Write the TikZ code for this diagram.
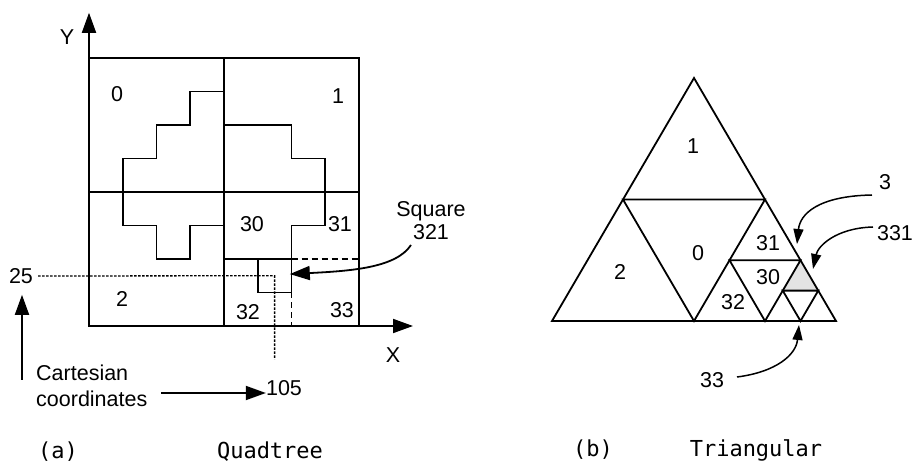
\documentclass[tikz,border=0pt]{standalone}
\usepackage{fontspec}
\usetikzlibrary{arrows.meta, calc}
\newfontfamily\lblfont{Liberation Sans}
\newfontfamily\capfont{DejaVu Sans Mono}

\begin{document}
\begin{tikzpicture}[
  x=1pt, y=-1pt,
  every node/.style={font=\lblfont\fontsize{21.5}{23}\selectfont, inner sep=0pt},
  edge/.style={line width=1.8pt},
  cut/.style={line width=1.8pt, dash pattern=on 6pt off 4pt},
  guide/.style={line width=1.3pt, dash pattern=on 2.5pt off 1.5pt},
  bigarrow/.style={line width=1.8pt, -{Triangle[length=20pt,width=14pt]}},
  ptr/.style={line width=1.5pt, -{Triangle[length=15pt,width=10pt]}},
  caption/.style={font=\capfont\fontsize{22}{26}\selectfont}
]
\useasboundingbox (0,0) rectangle (914,465);

% (a) quadtree, one grid step per level-3 square
\begin{scope}[shift={(89,326)}, x=33.75pt, y=33.5pt]
  % axes
  \coordinate (o) at (0,0);
  \coordinate (ytip) at (0,9.35);
  \coordinate (xtip) at (9.6,0);
  \draw[bigarrow] (o) -- (ytip);
  \draw[bigarrow] (o) -- (xtip);
  % quadrants
  \draw[edge] (0,0) rectangle (8,8);
  \draw[edge] (4,0) -- (4,8) (0,4) -- (8,4);
  % region outline
  \draw[edge] (4,7) -| (3,6) -| (2,5) -| (1,3) -| (2,2) -| (3,3) -- (4,3);
  \draw[edge] (4,6) -| (6,5) -| (7,3) -| (6,2) -- (4,2);
  % square 321 and the rest of quadrant 3
  \draw[edge] (5,1) rectangle (6,2);
  \draw[cut] (6,2) -- (8,2) (6,1) -- (6,0);
  \coordinate (c321) at (5.5,1.5);
  \coordinate (xfoot) at (5.5,-1);
  \coordinate (sqtip) at (5.95,1.55);
\end{scope}

\node (ylbl) at (67,37) {Y};
\node (xlbl) at (393,355) {X};
\node (q0) at (117,94) {0};
\node (q1) at (338,96) {1};
\node (q2) at (122,299) {2};
\node (q30) at (252,224) {30};
\node (q31) at (340,224) {31};
\node (q32) at (248,312) {32};
\node (q33) at (342,310) {33};

% square 321 pointer
\node[align=center] (sq) at (431,221) {Square\\321};
\coordinate (sqfoot) at (411,245);
\draw[bigarrow] (sqfoot) .. controls (396,268) and (350,271) .. (sqtip);

% cartesian coordinates
\node (n25) at (21,276) {25};
\draw[guide, shorten <=5pt] (n25.east) -- (c321) -- (xfoot);
\node[align=left, anchor=west, font=\lblfont\fontsize{21.5}{26}\selectfont] (cart) at (36,386) {Cartesian\\coordinates};
\coordinate (upfoot) at (22,380);
\draw[bigarrow, shorten >=11pt] (upfoot) -- (upfoot |- n25.south);
\node (n105) at (284,388) {105};
\coordinate (cfoot) at (161,393);
\draw[bigarrow] (cfoot) -- (cfoot -| n105.west);

% (b) triangular
\coordinate (A) at (694,78);
\coordinate (L) at (552,321);
\coordinate (R) at (836,321);
\coordinate (mL) at ($(A)!0.5!(L)$);
\coordinate (mR) at ($(A)!0.5!(R)$);
\coordinate (mB) at ($(L)!0.5!(R)$);
\coordinate (p) at ($(mR)!0.5!(mB)$);
\coordinate (q) at ($(mR)!0.5!(R)$);
\coordinate (r) at ($(mB)!0.5!(R)$);
\coordinate (s) at ($(q)!0.5!(r)$);
\coordinate (t) at ($(q)!0.5!(R)$);
\coordinate (u) at ($(r)!0.5!(R)$);

\fill[gray!22] (q) -- (s) -- (t) -- cycle;
\draw[edge] (A) -- (L) -- (R) -- cycle;
\draw[edge] (mL) -- (mR) -- (mB) -- cycle;
\draw[edge] (p) -- (q) -- (r) -- cycle;
\draw[edge] (s) -- (t) -- (u) -- cycle;

\node (t1) at (693,146) {1};
\node (t2) at (620,272) {2};
\node (t0) at (698,253) {0};
\node (t31) at (768,243) {31};
\node (t30) at (768,277) {30};
\node (t32) at (733,302) {32};

% pointers
\node (n3) at (885,182) {3};
\node (n331) at (895,233) {331};
\node (n33) at (712,380) {33};
\coordinate (f3) at (872,195);
\coordinate (f331) at (873,227);
\coordinate (f33) at (737,377);
\coordinate (tip3) at (797,244);
\coordinate (tip331) at (813,269);
\coordinate (tip33) at (799,325);
\draw[ptr] (f3) .. controls (818,196) and (800,214) .. (tip3);
\draw[ptr] (f331) .. controls (836,228) and (818,246) .. (tip331);
\draw[ptr] (f33) .. controls (776,372) and (796,355) .. (tip33);

% captions
\node[caption] (capa) at (58,452) {(a)};
\node[caption] (capq) at (270,452) {Quadtree};
\node[caption] (capb) at (593,450) {(b)};
\node[caption] (capt) at (756,450) {Triangular};
\end{tikzpicture}
\end{document}
